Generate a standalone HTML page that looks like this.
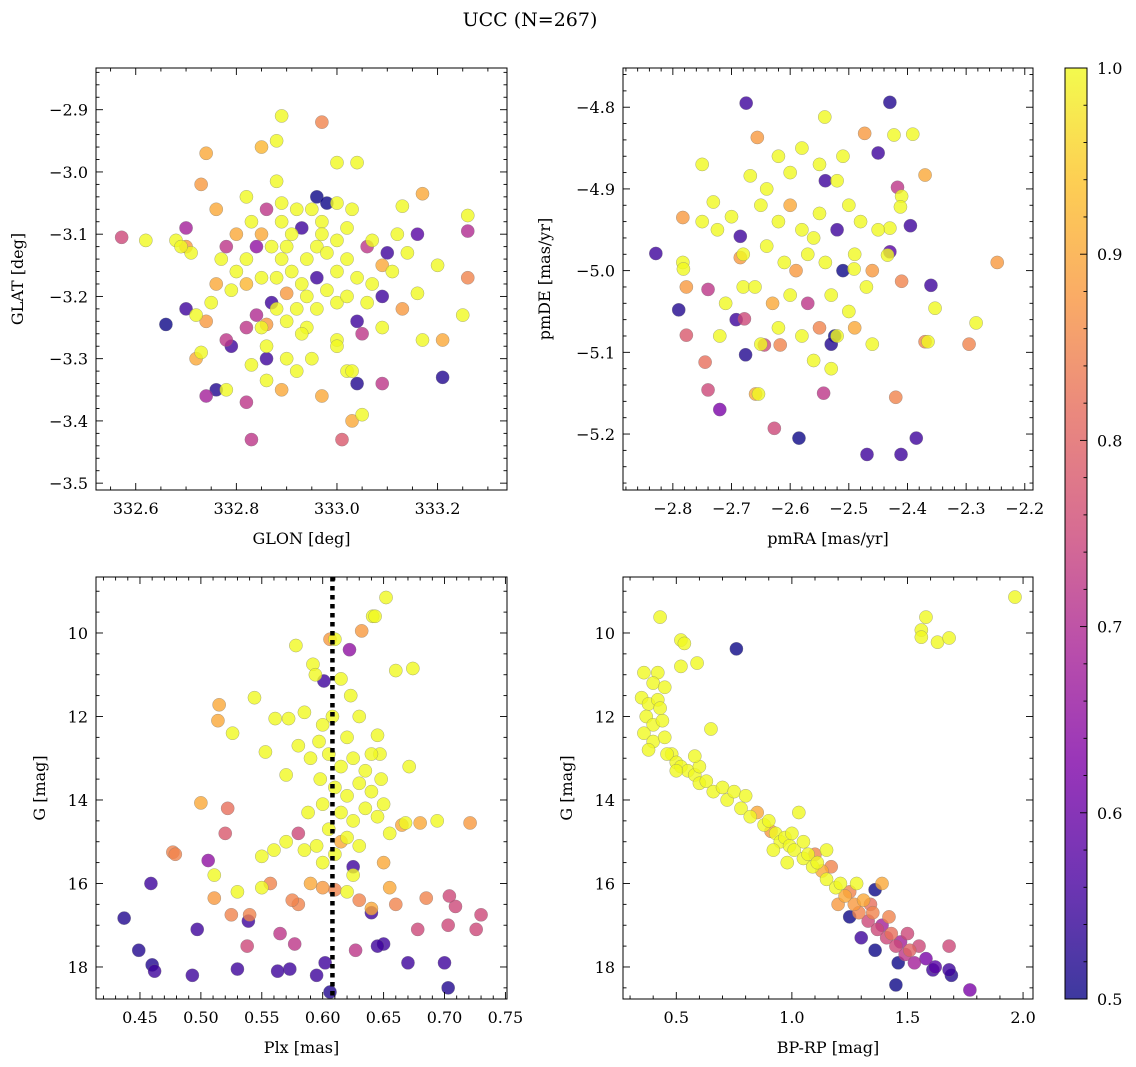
<!DOCTYPE html>
<html><head><meta charset="utf-8"><style>
html,body{margin:0;padding:0;background:#fff}
svg{display:block;font-family:"DejaVu Serif","Liberation Serif",serif}
</style></head><body>
<svg id="fig" width="1136" height="1067" viewBox="0 0 1136 1067" xmlns="http://www.w3.org/2000/svg">
<text x="530" y="26" font-size="19" text-anchor="middle">UCC (N=267)</text>
<defs><linearGradient id="cbg" x1="0" y1="1" x2="0" y2="0">
<stop offset="0" stop-color="#0d0887"/><stop offset="0.13" stop-color="#4c02a1"/><stop offset="0.25" stop-color="#7e03a8"/><stop offset="0.38" stop-color="#a92395"/><stop offset="0.5" stop-color="#cc4778"/><stop offset="0.63" stop-color="#e56b5d"/><stop offset="0.75" stop-color="#f89540"/><stop offset="0.88" stop-color="#fdc328"/><stop offset="1" stop-color="#f0f921"/></linearGradient></defs>
</svg>
<script>
const posPts=[[332.572,-3.105,.75],[332.68,-3.11,1],[332.74,-2.97,.9],[332.73,-3.02,.88],[332.76,-3.06,.9],[332.70,-3.09,.68],[332.70,-3.12,.88],[332.71,-3.13,1],[332.74,-3.24,.88],[332.70,-3.22,.55],[332.72,-3.23,1],[332.73,-3.29,1],[332.72,-3.30,.9],[332.76,-3.35,.52],[332.74,-3.36,.68],[332.78,-3.35,1],[332.82,-3.37,.72],[332.83,-3.43,.72],[332.89,-2.91,1],[332.88,-2.95,1],[332.85,-2.96,.92],[332.97,-2.92,.85],[333.0,-2.985,1],[333.04,-2.985,1],[332.88,-3.015,1],[332.96,-3.04,.5],[332.82,-3.04,1],[333.01,-3.43,.78],[333.03,-3.40,.9],[333.05,-3.39,1],[333.04,-3.34,.52],[333.09,-3.34,.72],[333.21,-3.33,.52],[333.21,-3.27,.9],[333.17,-3.27,1],[333.25,-3.23,1],[333.26,-3.17,.85],[333.26,-3.07,1],[333.26,-3.095,.7],[333.17,-3.035,.9],[333.13,-3.055,1],[333.16,-3.10,.58],[333.20,-3.15,1],[333.16,-3.195,1],[333.13,-3.22,.88],[333.07,-3.18,1],[333.11,-3.16,1],[333.10,-3.13,.55],[333.09,-3.15,.9],[333.07,-3.11,1],[333.06,-3.12,.72],[333.04,-3.24,.55],[333.0,-3.27,1],[333.02,-3.32,1],[332.94,-3.25,1],[332.93,-3.26,1],[332.90,-3.30,1],[332.92,-3.32,1],[332.86,-3.335,1],[332.83,-3.31,1],[332.85,-3.25,1],[332.86,-3.30,.55],[332.84,-3.23,.7],[332.82,-3.25,.72],[332.86,-3.245,.88],[332.87,-3.21,.55],[332.90,-3.195,.88],[332.94,-3.20,1],[332.89,-3.08,1],[332.91,-3.10,1],[332.93,-3.09,.55],[332.97,-3.08,1],[332.97,-3.10,1],[332.96,-3.12,1],[332.94,-3.14,1],[332.89,-3.14,1],[332.87,-3.12,1],[332.85,-3.10,.9],[332.83,-3.08,1],[332.80,-3.10,.9],[332.78,-3.12,.72],[332.77,-3.14,1],[332.80,-3.16,1],[332.82,-3.18,.92],[332.85,-3.17,1],[332.88,-3.17,1],[332.91,-3.16,1],[332.93,-3.18,1],[332.96,-3.17,.55],[332.98,-3.19,1],[333.0,-3.16,1],[333.02,-3.14,1],[333.00,-3.11,1],[333.02,-3.09,1],[333.03,-3.06,1],[333.0,-3.05,1],[332.98,-3.05,.5],[332.95,-3.06,1],[332.92,-3.06,1],[332.89,-3.05,1],[332.86,-3.06,.72],[332.84,-3.12,.65],[332.79,-3.19,1],[332.76,-3.18,.9],[332.75,-3.21,1],[332.78,-3.27,.72],[332.79,-3.28,.55],[332.90,-3.24,1],[332.92,-3.22,1],[332.96,-3.22,1],[333.0,-3.21,1],[333.02,-3.20,1],[333.06,-3.21,1],[333.05,-3.26,.72],[333.09,-3.25,1],[333.09,-3.20,.55],[333.12,-3.10,1],[333.14,-3.13,1],[333.03,-3.32,1],[332.89,-3.35,.9],[332.86,-3.28,1],[332.95,-3.30,1],[332.97,-3.36,.9],[333.00,-3.28,1],[332.98,-3.13,1],[332.90,-3.12,1],[332.88,-3.22,1],[332.82,-3.14,1],[333.04,-3.17,1],[332.66,-3.245,.5],[332.62,-3.11,1],[332.69,-3.12,1]];
const pmPts=[[-2.829,-4.979,.55],[-2.79,-5.048,.52],[-2.777,-5.079,.78],[-2.745,-5.112,.82],[-2.74,-5.146,.75],[-2.72,-5.17,.62],[-2.783,-4.935,.88],[-2.783,-4.99,1],[-2.782,-4.998,1],[-2.777,-5.02,.88],[-2.75,-4.94,1],[-2.75,-4.87,1],[-2.74,-5.023,.72],[-2.731,-4.916,1],[-2.724,-4.95,1],[-2.70,-4.934,1],[-2.685,-4.958,.55],[-2.675,-4.795,.55],[-2.656,-4.837,.88],[-2.668,-4.884,1],[-2.685,-4.984,.88],[-2.68,-5.02,1],[-2.678,-5.059,.75],[-2.676,-5.103,.52],[-2.692,-5.06,.55],[-2.659,-5.151,.9],[-2.654,-5.151,1],[-2.644,-5.091,.75],[-2.627,-5.193,.75],[-2.617,-5.091,.85],[-2.585,-5.205,.5],[-2.541,-4.812,1],[-2.543,-5.15,.72],[-2.524,-5.08,.5],[-2.473,-4.832,.88],[-2.469,-5.225,.55],[-2.45,-4.856,.55],[-2.43,-4.794,.52],[-2.423,-4.834,1],[-2.391,-4.833,1],[-2.41,-4.909,1],[-2.417,-4.898,.72],[-2.412,-4.922,1],[-2.37,-4.883,.9],[-2.420,-5.155,.85],[-2.411,-5.225,.55],[-2.385,-5.205,.55],[-2.37,-5.087,.85],[-2.365,-5.087,1],[-2.36,-5.018,.55],[-2.353,-5.046,1],[-2.295,-5.09,.85],[-2.283,-5.064,1],[-2.247,-4.99,.88],[-2.395,-4.945,.55],[-2.43,-4.977,.58],[-2.41,-5.013,.85],[-2.43,-4.948,1],[-2.434,-4.981,1],[-2.491,-4.998,1],[-2.46,-5.0,.88],[-2.65,-4.92,1],[-2.62,-4.94,1],[-2.60,-4.92,.9],[-2.58,-4.95,1],[-2.55,-4.93,1],[-2.52,-4.95,.55],[-2.50,-4.92,1],[-2.48,-4.94,1],[-2.64,-4.97,1],[-2.61,-4.99,1],[-2.59,-5.0,.88],[-2.57,-4.98,1],[-2.54,-4.99,1],[-2.51,-5.0,.5],[-2.49,-4.98,1],[-2.47,-5.02,1],[-2.66,-5.02,1],[-2.63,-5.04,.9],[-2.60,-5.03,1],[-2.57,-5.04,.72],[-2.53,-5.03,1],[-2.50,-5.05,1],[-2.62,-5.07,1],[-2.58,-5.08,1],[-2.55,-5.07,.85],[-2.52,-5.08,1],[-2.49,-5.07,.9],[-2.56,-5.11,1],[-2.53,-5.12,1],[-2.60,-4.88,1],[-2.55,-4.87,1],[-2.52,-4.89,1],[-2.58,-4.85,1],[-2.62,-4.86,1],[-2.68,-4.98,1],[-2.71,-5.04,1],[-2.72,-5.08,1],[-2.65,-5.09,1],[-2.46,-5.09,1],[-2.45,-4.95,1],[-2.54,-4.89,.55],[-2.51,-4.86,1],[-2.64,-4.90,1],[-2.56,-4.96,1],[-2.53,-5.09,.52]];
const plxPts=[[.437,16.83,.52],[.449,17.6,.52],[.459,16.0,.55],[.46,17.95,.52],[.462,18.1,.55],[.477,15.25,.85],[.479,15.3,.85],[.493,18.2,.55],[.497,17.1,.55],[.50,14.07,.9],[.506,15.45,.65],[.511,15.8,1],[.511,16.35,.88],[.515,11.72,.9],[.514,12.1,.9],[.522,14.2,.82],[.520,14.8,.78],[.526,12.4,1],[.530,18.05,.55],[.538,17.5,.75],[.539,16.9,.55],[.544,11.55,1],[.55,16.1,1],[.553,12.85,1],[.561,12.05,1],[.572,12.05,1],[.578,10.3,1],[.592,10.75,1],[.594,11.0,1],[.601,11.15,.55],[.606,10.15,.88],[.61,10.15,1],[.622,10.4,.65],[.632,9.95,.88],[.641,9.6,1],[.643,9.6,1],[.652,9.15,1],[.66,10.9,1],[.674,10.85,1],[.645,12.45,1],[.647,12.9,1],[.671,13.2,1],[.680,14.55,.9],[.694,14.5,1],[.721,14.55,.88],[.709,16.55,.75],[.704,16.3,.75],[.703,17.0,.75],[.70,17.9,.55],[.703,18.5,.52],[.730,16.75,.75],[.726,17.1,.75],[.685,16.35,.85],[.678,17.1,.75],[.670,17.9,.55],[.650,17.45,.55],[.645,17.5,.55],[.627,17.6,.72],[.606,18.6,.52],[.602,17.9,.55],[.595,18.2,.55],[.577,17.45,.72],[.573,18.05,.55],[.563,18.1,.55],[.557,16.0,.85],[.56,15.2,1],[.55,15.35,1],[.54,16.75,.85],[.525,16.75,.85],[.53,16.2,1],[.57,15.0,1],[.58,14.8,.75],[.585,15.2,1],[.58,16.5,.85],[.59,16.0,.9],[.575,16.4,.85],[.565,17.2,.72],[.62,16.2,1],[.625,15.6,.55],[.64,16.7,.55],[.65,15.5,.9],[.655,16.1,.9],[.66,16.5,.85],[.665,14.6,.9],[.668,14.55,1],[.655,14.8,1],[.64,16.6,.9],[.63,16.4,.85],[.61,16.15,.85],[.60,12.2,1],[.62,12.5,1],[.605,12.9,1],[.615,13.2,1],[.625,13.0,1],[.635,13.3,1],[.598,13.5,1],[.61,13.7,1],[.62,13.9,1],[.63,13.6,1],[.64,13.8,1],[.60,14.1,1],[.615,14.3,1],[.625,14.5,1],[.635,14.2,1],[.645,14.4,1],[.605,14.7,1],[.62,14.9,1],[.63,15.1,1],[.61,15.3,1],[.6,15.5,1],[.625,15.8,1],[.59,13.0,1],[.58,12.7,1],[.57,13.4,1],[.64,12.9,1],[.648,13.5,1],[.588,14.3,1],[.595,15.1,1],[.608,12.0,1],[.65,14.1,1],[.585,11.9,1],[.6,16.1,.88],[.615,15.0,.9],[.63,12.0,1],[.623,11.5,1],[.615,11.1,1],[.597,12.6,1]];
const cmdPts=[[.43,9.62,1],[.52,10.17,1],[.535,10.25,1],[.59,10.72,1],[.52,10.8,1],[.76,10.38,.5],[1.965,9.14,1],[1.58,9.62,1],[1.56,9.93,1],[1.56,10.1,1],[1.63,10.22,1],[1.68,10.12,1],[.36,10.95,1],[.42,10.95,1],[.40,11.2,1],[.45,11.3,1],[.35,11.55,1],[.38,11.7,1],[.42,11.6,1],[.37,12.0,1],[.40,12.2,1],[.44,12.1,1],[.36,12.4,1],[.40,12.6,1],[.45,12.5,1],[.48,12.9,1],[.50,13.1,1],[.52,13.2,1],[.46,12.9,1],[.55,13.3,1],[.58,13.4,1],[.60,13.6,1],[.63,13.55,1],[.65,12.3,1],[.66,13.8,1],[.70,13.7,1],[.72,14.0,1],[.75,13.8,1],[.78,14.2,1],[.80,13.9,1],[.82,14.4,1],[.85,14.3,.9],[.88,14.6,1],[.90,14.5,1],[.91,14.75,.88],[.93,14.8,1],[.95,15.0,1],[.97,14.9,1],[.99,15.1,1],[1.01,15.2,1],[1.03,14.3,1],[1.05,15.4,1],[1.07,15.3,1],[1.09,15.6,1],[1.11,15.5,1],[1.13,15.7,.9],[1.15,15.9,1],[1.17,15.6,.85],[1.19,16.1,1],[1.21,16.0,1],[1.23,16.3,.9],[1.25,16.2,.85],[1.27,16.5,.88],[1.29,16.7,.85],[1.31,16.4,.9],[1.33,16.9,.75],[1.35,16.7,.85],[1.36,16.15,.5],[1.37,17.1,.75],[1.39,17.0,.68],[1.41,17.3,.75],[1.43,17.2,.82],[1.45,17.5,.75],[1.45,18.43,.5],[1.47,17.4,.68],[1.49,17.7,.72],[1.51,17.6,.8],[1.53,17.9,.68],[1.55,17.5,.75],[1.58,17.8,.62],[1.61,18.07,.55],[1.62,18.0,.58],[1.68,17.5,.75],[1.68,18.07,.55],[1.69,18.2,.52],[1.77,18.55,.62],[1.36,17.6,.5],[1.39,16.0,.9],[1.25,16.8,.5],[1.3,17.3,.55],[1.46,17.9,.5],[1.2,16.5,.88],[1.1,15.3,.85],[1.0,14.8,1],[0.92,15.2,1],[1.05,15.0,1],[1.15,15.2,1],[0.98,15.5,1],[1.28,16.0,1],[.5,13.3,1],[.6,13.2,1],[.43,11.8,1],[.58,12.95,1],[.38,12.8,1],[1.42,16.8,.85],[1.5,17.2,.75],[1.34,16.5,.82]];
const plxMedian=[0.608];
const cbTicks=[0.5,0.6,0.7,0.8,0.9,1.0];

const NS='http://www.w3.org/2000/svg';
const svg=document.getElementById('fig');
function mk(tag,at,parent){const e=document.createElementNS(NS,tag);for(const k in at)e.setAttribute(k,at[k]);(parent||svg).appendChild(e);return e;}
const stops=[[0,[13,8,135]],[.13,[76,2,161]],[.25,[126,3,168]],[.38,[169,35,149]],[.5,[204,71,120]],[.63,[229,107,93]],[.75,[248,149,64]],[.88,[253,195,40]],[1,[240,249,33]]];
function cmap(p){let t=Math.max(0,Math.min(1,(p-0.5)/0.5));for(let i=1;i<stops.length;i++){if(t<=stops[i][0]){const a=stops[i-1],b=stops[i],f=(t-a[0])/(b[0]-a[0]);const c=a[1].map((v,j)=>Math.round(v+(b[1][j]-v)*f));return `rgb(${c})`;}}return 'rgb(240,249,33)';}
function fmt(v,d){return (v<-1e-9?'\u2212':'')+Math.abs(v).toFixed(d);}

function panel(cfg){
  const g=mk('g',{});
  
  
  const {x0,x1,y0,y1}=cfg;
  const sx=v=>x0+(v-cfg.xd[0])/(cfg.xd[1]-cfg.xd[0])*(x1-x0);
  const sy=v=>y0+(v-cfg.yd[0])/(cfg.yd[1]-cfg.yd[0])*(y1-y0);
  const pts=cfg.pts.slice().sort((a,b)=>a[2]-b[2]);
  const pg=mk('g',{},g);
  
  
  for(const p of pts){const c=mk('circle',{cx:sx(p[0]),cy:sy(p[1]),r:6.6,fill:cmap(p[2]),'fill-opacity':0.8,stroke:'#777','stroke-opacity':0.6,'stroke-width':0.5},pg);
    
    }
  if(cfg.vline){const l=mk('line',{x1:sx(cfg.vline[0]),x2:sx(cfg.vline[0]),y1:y0,y2:y1,stroke:'#000','stroke-width':4.5,'stroke-dasharray':'4.5 4.5'},g);
    
    }
  const ax=mk('g',{},g);
  
  
  mk('rect',{x:x0,y:y0,width:x1-x0,height:y1-y0,fill:'none',stroke:'#000','stroke-width':1},ax);
  const lo=Math.min(...cfg.xd),hi=Math.max(...cfg.xd);
  for(let k=Math.ceil(lo/cfg.xm-1e-6);k*cfg.xm<=hi+1e-9;k++){const v=k*cfg.xm,X=sx(v);const maj=Math.abs(v/cfg.xM-Math.round(v/cfg.xM))<1e-6;const L=maj?7:3.5;
    mk('line',{x1:X,x2:X,y1:y1,y2:y1-L,stroke:'#000','stroke-width':0.9},ax);mk('line',{x1:X,x2:X,y1:y0,y2:y0+L,stroke:'#000','stroke-width':0.9},ax);
    if(maj){const t=mk('text',{x:X,y:y1+24,'font-size':16,'text-anchor':'middle'},ax);t.textContent=fmt(v,cfg.xdec);}}
  const ylo=Math.min(...cfg.yd),yhi=Math.max(...cfg.yd);
  for(let k=Math.ceil(ylo/cfg.ym-1e-6);k*cfg.ym<=yhi+1e-9;k++){const v=k*cfg.ym,Y=sy(v);const maj=Math.abs(v/cfg.yM-Math.round(v/cfg.yM))<1e-6;const L=maj?7:3.5;
    mk('line',{x1:x0,x2:x0+L,y1:Y,y2:Y,stroke:'#000','stroke-width':0.9},ax);mk('line',{x1:x1,x2:x1-L,y1:Y,y2:Y,stroke:'#000','stroke-width':0.9},ax);
    if(maj){const t=mk('text',{x:x0-8,y:Y+6,'font-size':16,'text-anchor':'end'},ax);t.textContent=fmt(v,cfg.ydec);}}
  const xl=mk('text',{x:(x0+x1)/2,y:y1+54,'font-size':16,'text-anchor':'middle'},ax);xl.textContent=cfg.xlab;
  
  const yx=cfg.ylx;const yl=mk('text',{x:yx,y:(y0+y1)/2,'font-size':16,'text-anchor':'middle',transform:`rotate(-90 ${yx} ${(y0+y1)/2})`},ax);yl.textContent=cfg.ylab;
  
}
panel({name:'position-panel',x0:96,x1:507,y0:68,y1:490,xd:[332.521,333.338],yd:[-2.833,-3.511],xM:0.2,xm:0.05,yM:0.1,ym:0.02,xdec:1,ydec:1,pts:posPts,xlab:'GLON [deg]',ylab:'GLAT [deg]',ylx:23});
panel({name:'proper-motion-panel',x0:623,x1:1033,y0:68,y1:490,xd:[-2.885,-2.186],yd:[-4.752,-5.2685],xM:0.1,xm:0.02,yM:0.1,ym:0.02,xdec:1,ydec:1,pts:pmPts,xlab:'pmRA [mas/yr]',ylab:'pmDE [mas/yr]',ylx:550});
panel({name:'parallax-panel',x0:96,x1:507,y0:577,y1:999,xd:[0.4139,0.7513],yd:[8.659,18.767],xM:0.05,xm:0.01,yM:2,ym:0.5,xdec:2,ydec:0,pts:plxPts,xlab:'Plx [mas]',ylab:'G [mag]',ylx:45,vline:plxMedian});
panel({name:'cmd-panel',x0:623,x1:1033,y0:577,y1:999,xd:[0.2695,2.043],yd:[8.659,18.767],xM:0.5,xm:0.1,yM:2,ym:0.5,xdec:1,ydec:0,pts:cmdPts,xlab:'BP-RP [mag]',ylab:'G [mag]',ylx:572});

const cb=mk('g',{});


const cy0=68,cy1=999,cx0=1065,cx1=1087;
const cs=v=>cy1-(v-0.5)/0.5*(cy1-cy0);
mk('rect',{x:cx0,y:cy0,width:cx1-cx0,height:cy1-cy0,fill:'url(#cbg)','fill-opacity':0.8},cb);
mk('rect',{x:cx0,y:cy0,width:cx1-cx0,height:cy1-cy0,fill:'none',stroke:'#000','stroke-width':1},cb);
for(let k=25;k<=50;k++){const v=k*0.02,Y=cs(v);const maj=k%5===0;mk('line',{x1:cx1,x2:cx1-(maj?7:3.5),y1:Y,y2:Y,stroke:'#000','stroke-width':0.9},cb);}
for(const v of cbTicks){const t=mk('text',{x:cx1+10,y:cs(v)+6,'font-size':16},cb);t.textContent=v.toFixed(1);
  
  }
</script>
</body></html>
